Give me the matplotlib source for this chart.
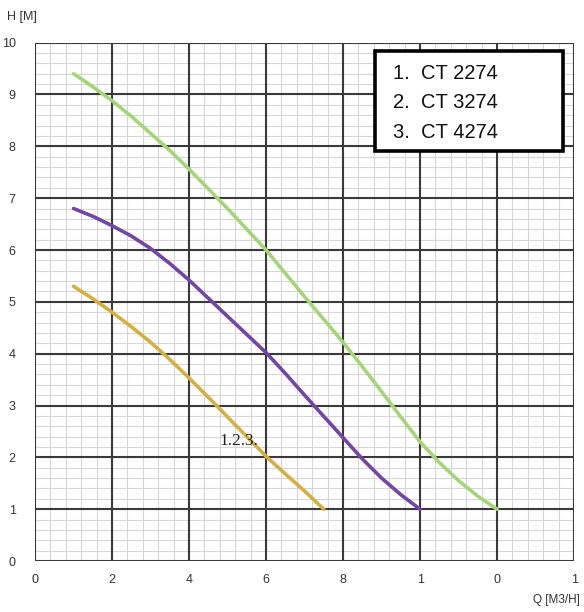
import matplotlib
matplotlib.use("Agg")
import matplotlib.pyplot as plt
import numpy as np
from matplotlib.patches import Rectangle

# Data
q_green = [1, 1.5, 2, 2.5, 3, 3.5, 4, 4.5, 5, 5.5, 6, 6.5, 7, 7.5, 8, 8.5, 9, 9.5,
           10, 10.5, 11, 11.5, 12]
h_green = [9.4, 9.15, 8.88, 8.58, 8.25, 7.92, 7.56, 7.18, 6.8, 6.4, 6.0, 5.55, 5.1,
           4.66, 4.22, 3.75, 3.27, 2.78, 2.3, 1.9, 1.55, 1.25, 1.0]
q_purple = [1, 1.5, 2, 2.5, 3, 3.5, 4, 4.5, 5, 5.5, 6, 6.5, 7, 7.5, 8, 8.5, 9, 9.5, 10]
h_purple = [6.8, 6.65, 6.47, 6.27, 6.03, 5.74, 5.42, 5.07, 4.72, 4.37, 4.02, 3.62,
            3.2, 2.79, 2.38, 1.97, 1.6, 1.28, 1.0]
q_orange = [1, 1.5, 2, 2.5, 3, 3.5, 4, 4.5, 5, 5.5, 6, 6.5, 7, 7.5]
h_orange = [5.3, 5.06, 4.8, 4.52, 4.22, 3.89, 3.53, 3.16, 2.78, 2.4, 2.02, 1.68,
            1.35, 1.0]

x_ticks = [0, 2, 4, 6, 8, 10, 12, 14]
x_labels = ["0", "2", "4", "6", "8", "1", "0", "1"]
y_ticks = [0, 1, 2, 3, 4, 5, 6, 7, 8, 9, 10]
y_labels = [str(v) for v in y_ticks]
legend_lines = ["1.  CT 2274", "2.  CT 3274", "3.  CT 4274"]

fig = plt.figure(figsize=(5.84, 6.12), dpi=100)
ax = fig.add_axes([0.06, 0.0833, 0.923, 0.847])
ax.set_xlim(0, 14)
ax.set_ylim(0, 10)

# minor grid
for xv in np.arange(0, 14.01, 0.4):
    ax.axvline(xv, color="#d6d6d6", lw=0.8, zorder=0)
for yv in np.arange(0, 10.01, 0.2):
    ax.axhline(yv, color="#d6d6d6", lw=0.8, zorder=0)
# major grid
for xv in x_ticks:
    ax.axvline(xv, color="#3a3a3a", lw=1.5, zorder=1)
for yv in y_ticks:
    ax.axhline(yv, color="#3a3a3a", lw=1.5, zorder=1)

ax.plot(q_green, h_green, color="#a6d47a", lw=2.6, solid_capstyle="round", zorder=3)
ax.plot(q_purple, h_purple, color="#7246a3", lw=2.6, solid_capstyle="round", zorder=3)
ax.plot(q_orange, h_orange, color="#d4af45", lw=2.6, solid_capstyle="round", zorder=3)

ax.set_xticks(x_ticks)
ax.set_xticklabels(x_labels)
ax.set_yticks(y_ticks)
ax.set_yticklabels(y_labels)
ax.tick_params(length=0, labelsize=9, colors="#333333", labelfontfamily="Liberation Sans")
ax.tick_params(axis="x", pad=9)
ax.tick_params(axis="y", pad=14)
for s in ax.spines.values():
    s.set_visible(False)

ax.text(4.8, 2.24, "1.2.3.", fontsize=12.5, family="Liberation Serif", color="#222222", zorder=4)

# legend box
ax.add_patch(Rectangle((8.83, 7.91), 4.88, 1.92, facecolor="white", edgecolor="black",
                       lw=2.6, zorder=5))
for i, t in enumerate(legend_lines):
    ax.text(9.3, 9.41 - i * 0.57, t, fontsize=14.5, family="Liberation Sans",
            va="center", ha="left", color="#111111", zorder=6)

fig.text(7 / 584, 1 - 17 / 612, "H [M]", fontsize=9, family="Liberation Sans",
         color="#333333", va="center", ha="left")
fig.text(580 / 584, 1 - 600 / 612, "Q [M3/H]", fontsize=8.5, family="Liberation Sans",
         color="#333333", va="center", ha="right")

fig.savefig("out.png", dpi=100)
